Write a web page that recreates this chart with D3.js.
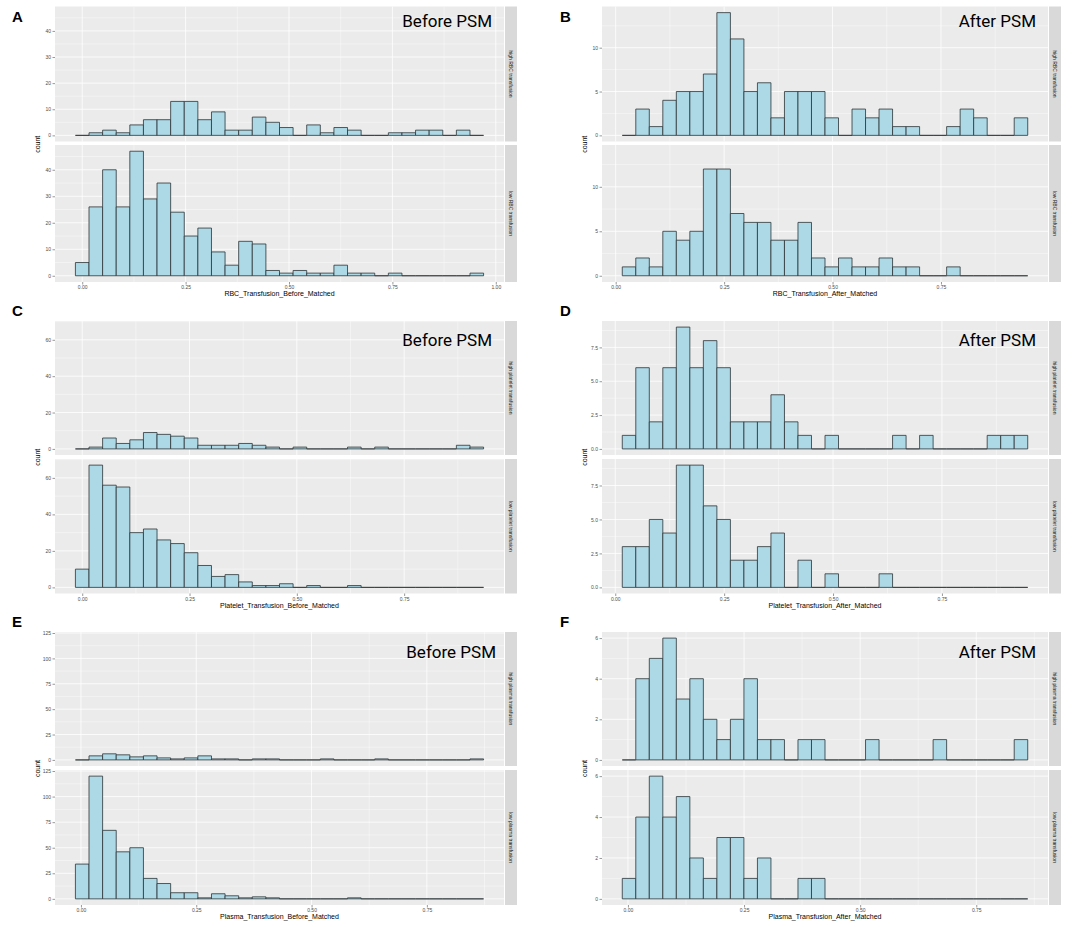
<!DOCTYPE html>
<meta charset="utf-8">
<style>
body { margin: 0; background: #fff; }
.panel-bg { fill: #ebebeb; }
.grid-major { stroke: #fff; stroke-width: 0.8; }
.grid-minor { stroke: #fff; stroke-width: 0.4; }
.bar { fill: #add8e6; stroke: #2b3336; stroke-width: 0.8; }
.strip { fill: #d9d9d9; }
.strip-text { font-family: "Liberation Sans", Arial, sans-serif; font-size: 5px; fill: #1a1a1a; }
.axis text { font-family: "Liberation Sans", Arial, sans-serif; font-size: 5px; fill: #4d4d4d; }
.axis line { stroke: #333; stroke-width: 0.5; }
.axis-title { font-family: "Liberation Sans", Arial, sans-serif; font-size: 7px; fill: #000; }
.letter { font-family: "Liberation Sans", Arial, sans-serif; font-size: 15px; font-weight: bold; fill: #000; }
.psm { font-family: Roboto, "Noto Sans", sans-serif; font-size: 17px; fill: #000; }
</style>
<body>
</body>
<script src="https://d3js.org/d3.v7.min.js"></script>
<script>

// ---- data (30 bins per histogram) ----
var rbcBeforeHigh = [0,1,2,1,4,6,6,13,13,6,9,2,2,7,5,3,0,4,1,3,2,0,0,1,1,2,2,0,2,0];
var rbcBeforeLow  = [5,26,40,26,47,29,35,24,15,18,9,4,13,12,2,1,2,1,1,4,1,1,0,1,0,0,0,0,0,1];
var rbcAfterHigh  = [0,3,1,4,5,5,7,14,11,5,6,2,5,5,5,2,0,3,2,3,1,1,0,0,1,3,2,0,0,2];
var rbcAfterLow   = [1,2,1,5,4,5,12,12,7,6,6,4,4,6,2,1,2,1,1,2,1,1,0,0,1,0,0,0,0,0];
var pltBeforeHigh = [0,1,6,3,5,9,8,7,6,2,2,2,3,2,1,0,1,0,0,0,1,0,1,0,0,0,0,0,2,1];
var pltBeforeLow  = [10,67,56,55,30,32,26,24,19,12,6,7,3,1,1,2,0,1,0,0,1,0,0,0,0,0,0,0,0,0];
var pltAfterHigh  = [1,6,2,6,9,6,8,6,2,2,2,4,2,1,0,1,0,0,0,0,1,0,1,0,0,0,0,1,1,1];
var pltAfterLow   = [3,3,5,4,9,9,6,5,2,2,3,4,0,2,0,1,0,0,0,1,0,0,0,0,0,0,0,0,0,0];
var plsBeforeHigh = [0,4,6,5,3,4,2,1,2,4,1,1,0,1,1,0,0,0,1,0,0,0,1,0,0,0,0,0,0,1];
var plsBeforeLow  = [34,120,67,46,50,20,15,6,6,1,5,3,1,2,1,0,0,0,0,0,1,0,0,0,0,0,0,0,0,0];
var plsAfterHigh  = [0,4,5,6,3,4,2,1,2,4,1,1,0,1,1,0,0,0,1,0,0,0,0,1,0,0,0,0,0,1];
var plsAfterLow   = [1,4,6,4,5,2,1,3,3,1,2,0,0,1,1,0,0,0,0,0,0,0,0,0,0,0,0,0,0,0];

var highSeries = [rbcBeforeHigh, rbcAfterHigh, pltBeforeHigh, pltAfterHigh, plsBeforeHigh, plsAfterHigh];
var lowSeries  = [rbcBeforeLow, rbcAfterLow, pltBeforeLow, pltAfterLow, plsBeforeLow, plsAfterLow];

var binStarts = [-0.0165, 0.0152, -0.0159, 0.0161, -0.012, -0.0122];
var binWidths = [0.0329, 0.03116, 0.0317, 0.03103, 0.0295, 0.0291];

var panelLetters = ["A", "B", "C", "D", "E", "F"];
var psmLabels = ["Before PSM", "After PSM", "Before PSM", "After PSM", "Before PSM", "After PSM"];
var xTitles = ["RBC_Transfusion_Before_Matched", "RBC_Transfusion_After_Matched",
               "Platelet_Transfusion_Before_Matched", "Platelet_Transfusion_After_Matched",
               "Plasma_Transfusion_Before_Matched", "Plasma_Transfusion_After_Matched"];
var highStrips = ["high RBC transfusion", "high RBC transfusion", "high platelet transfusion",
                  "high platelet transfusion", "high plasma transfusion", "high plasma transfusion"];
var lowStrips  = ["low RBC transfusion", "low RBC transfusion", "low platelet transfusion",
                  "low platelet transfusion", "low plasma transfusion", "low plasma transfusion"];

var xTickValues = [[0, 0.25, 0.5, 0.75, 1], [0, 0.25, 0.5, 0.75], [0, 0.25, 0.5, 0.75],
                   [0, 0.25, 0.5, 0.75], [0, 0.25, 0.5, 0.75], [0, 0.25, 0.5, 0.75]];
var yTickValues = [[0, 10, 20, 30, 40], [0, 5, 10], [0, 20, 40, 60],
                   [0, 2.5, 5, 7.5], [0, 25, 50, 75, 100, 125], [0, 2, 4, 6]];
var yTickFormats = ["d", "d", "d", ".1f", "d", "d"];

// ---- layout ----
var width = 1084, height = 927;
var colX = [[55, 504], [602, 1048]];          // panel left / right
var stripW = 12;
var rowFacets = [
  [[6.5, 141.5], [145, 282]],
  [[321, 455], [459, 593.5]],
  [[632, 766], [770, 905]]
];
var psmBaseline = [20, 25, 26];   // offset from the row top

var svg = d3.select("body").append("svg")
    .attr("width", width)
    .attr("height", height);

function minorBreaks(ticks, lo, hi) {
  var step = ticks[1] - ticks[0];
  var out = [];
  for (var v = ticks[0] - step / 2; v <= hi; v += step) {
    if (v >= lo) out.push(v);
  }
  return out;
}

function majorBreaks(ticks, lo, hi) {
  var step = ticks[1] - ticks[0];
  var out = [];
  for (var v = ticks[0]; v <= hi + 1e-9; v += step) {
    if (v >= lo) out.push(v);
  }
  return out;
}

function drawPanel(i) {
  var col = i % 2, row = Math.floor(i / 2);
  var L = colX[col][0], R = colX[col][1];
  var n = highSeries[i].length;
  var bw = binWidths[i], lo = binStarts[i], hi = lo + bw * n;
  var pad = (hi - lo) * 0.05;
  var x = d3.scaleLinear().domain([lo - pad, hi + pad]).range([L, R]);
  var ymax = d3.max(highSeries[i].concat(lowSeries[i]));
  var g = svg.append("g");

  var facets = [
    {counts: highSeries[i], strip: highStrips[i], box: rowFacets[row][0]},
    {counts: lowSeries[i], strip: lowStrips[i], box: rowFacets[row][1]}
  ];

  facets.forEach(function(f, fi) {
    var top = f.box[0], bottom = f.box[1];
    var y = d3.scaleLinear().domain([-0.05 * ymax, 1.05 * ymax]).range([bottom, top]);
    var fg = g.append("g");

    fg.append("rect").attr("class", "panel-bg")
      .attr("x", L).attr("y", top).attr("width", R - L).attr("height", bottom - top);

    // gridlines
    var xd = x.domain(), yd = y.domain();
    fg.selectAll(".gx-minor").data(minorBreaks(xTickValues[i], xd[0], xd[1])).enter()
      .append("line").attr("class", "grid-minor")
      .attr("x1", d => x(d)).attr("x2", d => x(d)).attr("y1", top).attr("y2", bottom);
    fg.selectAll(".gy-minor").data(minorBreaks(yTickValues[i], yd[0], yd[1])).enter()
      .append("line").attr("class", "grid-minor")
      .attr("y1", d => y(d)).attr("y2", d => y(d)).attr("x1", L).attr("x2", R);
    fg.selectAll(".gx-major").data(majorBreaks(xTickValues[i], xd[0], xd[1])).enter()
      .append("line").attr("class", "grid-major")
      .attr("x1", d => x(d)).attr("x2", d => x(d)).attr("y1", top).attr("y2", bottom);
    fg.selectAll(".gy-major").data(majorBreaks(yTickValues[i], yd[0], yd[1])).enter()
      .append("line").attr("class", "grid-major")
      .attr("y1", d => y(d)).attr("y2", d => y(d)).attr("x1", L).attr("x2", R);

    // bars (zero bins still drawn as a flat outline, like ggplot)
    fg.selectAll(".bar").data(f.counts).enter()
      .append("path").attr("class", "bar")
      .attr("d", function(d, k) {
        var x0 = x(lo + k * bw), x1 = x(lo + (k + 1) * bw);
        var y0 = y(0), y1 = y(d);
        return "M" + x0 + "," + y0 + "V" + y1 + "H" + x1 + "V" + y0 + "Z";
      });

    // y axis
    var ya = fg.append("g").attr("class", "axis")
      .attr("transform", "translate(" + L + ",0)")
      .call(d3.axisLeft(y).tickValues(yTickValues[i]).tickSize(2.5).tickPadding(1.5)
            .tickFormat(d3.format(yTickFormats[i])));
    ya.select(".domain").remove();

    // strip
    fg.append("rect").attr("class", "strip")
      .attr("x", R + 1).attr("y", top).attr("width", stripW).attr("height", bottom - top);
    fg.append("text").attr("class", "strip-text")
      .attr("text-anchor", "middle")
      .attr("transform", "translate(" + (R + 1 + stripW / 2 - 1.7) + "," + ((top + bottom) / 2) + ") rotate(90)")
      .text(f.strip);

    if (fi === 1) {
      var xa = fg.append("g").attr("class", "axis")
        .attr("transform", "translate(0," + bottom + ")")
        .call(d3.axisBottom(x).tickValues(xTickValues[i]).tickSize(2.5).tickPadding(1)
              .tickFormat(d3.format(".2f")));
      xa.select(".domain").remove();

      g.append("text").attr("class", "axis-title")
        .attr("text-anchor", "middle")
        .attr("x", (L + R) / 2).attr("y", bottom + 14)
        .text(xTitles[i]);
    }
  });

  var t = rowFacets[row][0][0], b = rowFacets[row][1][1];
  g.append("text").attr("class", "axis-title")
    .attr("text-anchor", "middle")
    .attr("transform", "translate(" + (L - 15) + "," + ((t + b) / 2) + ") rotate(-90)")
    .text("count");

  g.append("text").attr("class", "letter")
    .attr("x", col === 0 ? 12 : 560)
    .attr("y", t + (row === 0 ? 15.5 : -5))
    .text(panelLetters[i]);

  g.append("text").attr("class", "psm")
    .attr("text-anchor", "end")
    .attr("x", R - 12 + (row === 2 && col === 0 ? 4 : 0))
    .attr("y", t + psmBaseline[row])
    .text(psmLabels[i]);
}

for (var i = 0; i < 6; i++) drawPanel(i);

</script>
